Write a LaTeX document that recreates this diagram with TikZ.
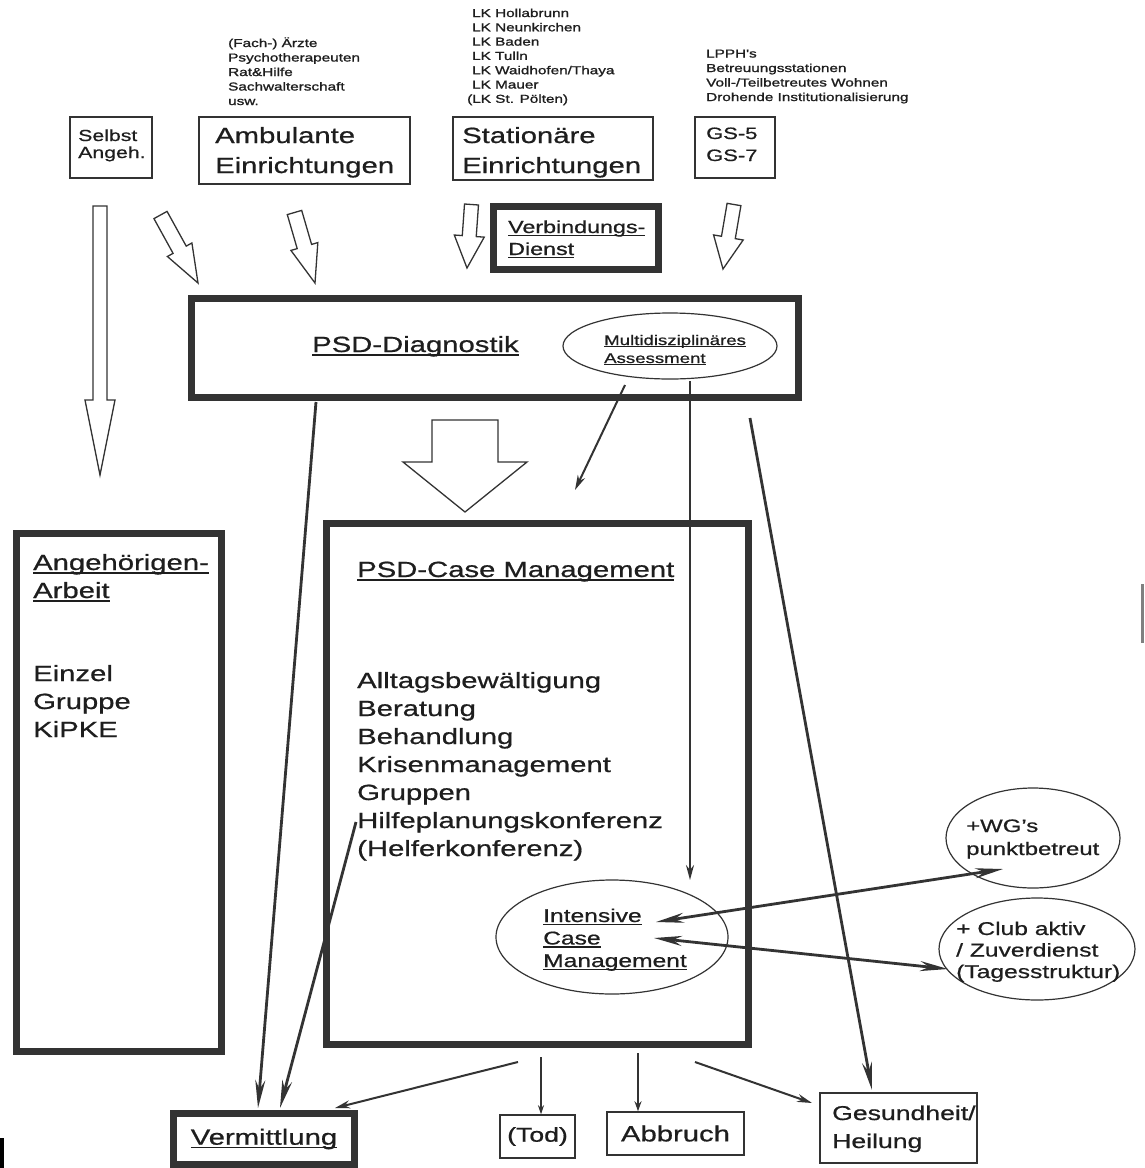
\documentclass[tikz,border=0pt]{standalone}
\usepackage{fontspec}
\setmainfont{Liberation Sans}[FakeStretch=1.33,FakeBold=0.7]
\newfontfamily\smallf{Liberation Sans}[FakeStretch=1.33,FakeBold=1.3]
\usetikzlibrary{arrows.meta,calc,shapes.geometric}
\definecolor{lc}{HTML}{333333}
\definecolor{tc}{HTML}{1E1E1E}
\newcommand\fs[1]{\fontsize{#1}{#1}\selectfont}
\newcommand\myul[1]{\setbox0\hbox{#1}\rlap{\rule[-0.17em]{\wd0}{0.075em}}\box0}
\newcommand\tlines[6]{\foreach \tx [count=\i] in {#6} {\node[txt,#2] (#1\i) at (#3,{#4+(\i-1)*#5}) {\tx};}}
\newcommand\harrow[5]{%
  \coordinate (hC) at ($(#2)!#5!(#1)$);
  \draw[hollow] ($(#1)!#3!90:(#2)$) -- ($(hC)!#3!90:(#2)$) -- ($(hC)!#4!90:(#2)$) -- (#2)
    -- ($(hC)!#4!-90:(#2)$) -- ($(hC)!#3!-90:(#2)$) -- ($(#1)!#3!-90:(#2)$) -- cycle;}
\begin{document}
\begin{tikzpicture}[x=1pt,y=-1pt,
  txt/.style={anchor=base west, inner sep=0pt, text=tc},
  tbox/.style={draw=lc, line width=1.5pt, inner sep=0pt, text=tc},
  kbox/.style={draw=lc, line width=7pt, inner sep=0pt, text=tc},
  ell/.style={ellipse, draw=lc, line width=1.2pt, inner sep=0pt},
  hollow/.style={draw=lc, line width=1.3pt, fill=white, line join=miter},
  thk/.style={draw=lc, line width=2.8pt, -{Stealth[length=28pt,width=10pt]}},
  dbl/.style={draw=lc, line width=2.8pt, {Stealth[length=28pt,width=10pt]}-{Stealth[length=28pt,width=10pt]}},
  med/.style={draw=lc, line width=2pt, -{Stealth[length=15pt,width=8pt]}},
  thn/.style={draw=lc, line width=1.2pt, -{Stealth[length=9pt,width=6pt]}},
  sm/.style={font=\smallf\fs{11.5}},
  bg/.style={font=\fs{22}}]
\fill[white] (0,0) rectangle (1144,1168);
\useasboundingbox (0,0) rectangle (1144,1168);

% top small texts
\tlines{fa}{sm}{228}{47}{14.5}{(Fach-) Ärzte,Psychotherapeuten,Rat\&Hilfe,Sachwalterschaft,usw.}
\tlines{lk}{sm}{472}{17}{14.3}{LK Hollabrunn,LK Neunkirchen,LK Baden,LK Tulln,LK Waidhofen/Thaya,LK Mauer}
\node[txt,sm] (lk7) at (467,102.8) {(LK St. Pölten)};
\tlines{lp}{sm}{706}{57.5}{14.5}{LPPH's,Betreuungsstationen,Voll-/Teilbetreutes Wohnen,Drohende Institutionalisierung}

% top boxes
\node[tbox, minimum width=82pt, minimum height=61pt] (selbst) at (111,147.5) {};
\tlines{se}{font=\fs{16}}{78}{141}{17}{Selbst,Angeh.}
\node[tbox, minimum width=211pt, minimum height=67pt] (amb) at (304.5,150.5) {};
\tlines{am}{bg}{215}{143}{30}{Ambulante,Einrichtungen}
\node[tbox, minimum width=200pt, minimum height=63pt] (stat) at (553,148.5) {};
\tlines{st}{bg}{462}{143}{30}{Stationäre,Einrichtungen}
\node[tbox, minimum width=80pt, minimum height=61pt] (gs) at (735,147.5) {};
\tlines{gs}{font=\fs{16.5}}{706}{139}{22}{GS-5,GS-7}

% hollow arrows
\coordinate (la1) at (100,206); \coordinate (la2) at (100,475);
\harrow{la1}{la2}{7pt}{15pt}{75pt}
\coordinate (a1t) at (160.5,215); \coordinate (a1h) at (198,283);
\harrow{a1t}{a1h}{7.5pt}{14pt}{38pt}
\coordinate (a2t) at (294.5,212.5); \coordinate (a2h) at (315,283);
\harrow{a2t}{a2h}{7.5pt}{14pt}{38pt}
\coordinate (a3t) at (471.5,204.5); \coordinate (a3h) at (467,268);
\harrow{a3t}{a3h}{7pt}{15pt}{32pt}
\coordinate (a4t) at (734,204.5); \coordinate (a4h) at (723,269);
\harrow{a4t}{a4h}{7pt}{15pt}{32pt}
\coordinate (bat) at (465,420); \coordinate (bah) at (465,512);
\harrow{bat}{bah}{33pt}{62pt}{50pt}

% Verbindungsdienst
\node[kbox, minimum width=165pt, minimum height=63pt] (vd) at (576,238) {};
\tlines{vd}{font=\fs{17.5}}{508}{233}{22}{\myul{Verbindungs-},\myul{Dienst}}

% PSD-Diagnostik
\node[kbox, minimum width=607pt, minimum height=99pt] (diag) at (495,348) {};
\node[txt,bg] (diagt) at (312,352) {\myul{PSD-Diagnostik}};
\node[ell, minimum width=214pt, minimum height=66pt] (mda) at (670,346) {};
\tlines{md}{font=\fs{14}}{604}{345}{18}{\myul{Multidisziplinäres},\myul{Assessment}}

% Angehoerigen-Arbeit
\node[kbox, minimum width=205pt, minimum height=518pt] (ang) at (119,792.5) {};
\tlines{an}{bg}{33}{570}{28}{\myul{Angehörigen-},\myul{Arbeit}}
\tlines{ei}{bg}{33}{681}{28}{Einzel,Gruppe,KiPKE}

% PSD-Case Management
\node[kbox, minimum width=422pt, minimum height=521pt] (cm) at (537.5,784) {};
\node[txt,bg] (cmt) at (357,577) {\myul{PSD-Case Management}};
\tlines{cl}{bg}{357}{688}{28}{Alltagsbewältigung,Beratung,Behandlung,Krisenmanagement,Gruppen,Hilfeplanungskonferenz,(Helferkonferenz)}
\node[ell, minimum width=232pt, minimum height=114pt] (icm) at (612,937) {};
\tlines{ic}{font=\fs{18.5}}{543}{922}{22.5}{\myul{Intensive},\myul{Case},\myul{Management}}

% right ellipses
\node[ell, minimum width=174pt, minimum height=100pt] (wg) at (1033,838) {};
\tlines{wg}{font=\fs{18}}{966}{832}{23}{+WG’s,punktbetreut}
\node[ell, minimum width=196pt, minimum height=102pt] (club) at (1037,949) {};
\tlines{cb}{font=\fs{18.5}}{956}{935}{21.5}{+ Club aktiv,/ Zuverdienst,(Tagesstruktur)}

% bottom boxes
\node[kbox, minimum width=181pt, minimum height=51pt, font=\fs{22}] (verm) at (264,1139) {\myul{Vermittlung}};
\node[tbox, minimum width=75pt, minimum height=43pt, font=\fs{20}] (tod) at (537.5,1136.5) {(Tod)};
\node[tbox, minimum width=137pt, minimum height=43pt, font=\fs{22}] (abb) at (675.5,1133.5) {Abbruch};
\node[tbox, minimum width=157pt, minimum height=70pt] (ges) at (898.5,1128) {};
\tlines{ge}{font=\fs{20}}{832}{1120}{28}{Gesundheit/,Heilung}

% connectors
\coordinate (dv1) at (316,402); \coordinate (vt1) at (258,1108);
\draw[thk] (dv1) -- (vt1);
\coordinate (cv1) at (356,822); \coordinate (vt2) at (280,1108);
\draw[thk] (cv1) -- (vt2);
\coordinate (cb1) at (518,1062); \coordinate (vt3) at (335,1108);
\draw[med] (cb1) -- (vt3);
\coordinate (tod1) at (541,1057);
\draw[thn] (tod1) -- (tod1 |- tod.north);
\coordinate (ab1) at (638,1053);
\draw[draw=lc, line width=1.8pt, -{Stealth[length=10pt,width=7pt]}] (ab1) -- (ab1 |- abb.north);
\coordinate (cg1) at (695,1062); \coordinate (gh1) at (812,1103);
\draw[med] (cg1) -- (gh1);
\coordinate (dg1) at (750,418); \coordinate (gh2) at (872,1090);
\draw[thk] (dg1) -- (gh2);
\coordinate (as1) at (625,385); \coordinate (cm1) at (575,490);
\draw[med] (as1) -- (cm1);
\coordinate (as2) at (690,381); \coordinate (ic0) at (690,880);
\draw[med] (as2) -- (ic0);
\coordinate (ic1) at (656,922); \coordinate (wg1) at (1003,869);
\draw[dbl] (ic1) -- (wg1);
\coordinate (ic2) at (654,938); \coordinate (cl1) at (948,969);
\draw[dbl] (ic2) -- (cl1);

% page-edge marks
\draw[gray, line width=2.5pt] (1142.5,584) -- (1142.5,643);
\fill[black] (0,1138) rectangle (4,1168);
\end{tikzpicture}
\end{document}
